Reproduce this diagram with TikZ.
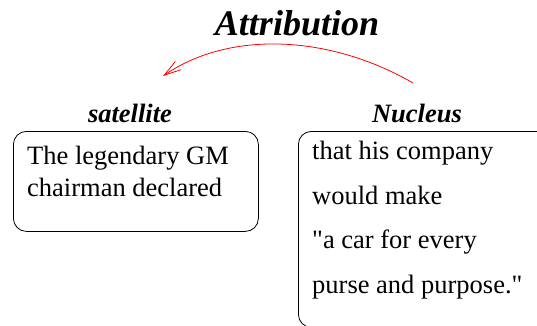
\documentclass[tikz,border=0pt]{standalone}
\usepackage{fontspec}
\setmainfont{Liberation Serif}
\usetikzlibrary{positioning, arrows.meta}

\tikzset{
  relbox/.style={draw, rounded corners=13pt, line width=0.8pt, anchor=north west},
  rellabel/.style={font=\fontsize{26.5}{30}\bfseries\itshape\selectfont, anchor=base},
  reltext/.style={font=\fontsize{26.5}{#1}\selectfont, align=left, inner sep=0pt, anchor=north west},
}

\begin{document}
\begin{tikzpicture}[x=1pt,y=-1pt]
\useasboundingbox (0,0) rectangle (537,325);
\clip (0,0) rectangle (537,325);
\node[font=\fontsize{36}{40}\bfseries\itshape\selectfont, anchor=base] (title) at (297,35) {Attribution};
\node[rellabel] (satlabel) at (130,122) {satellite};
\node[rellabel] (nuclabel) at (417,122) {Nucleus};
\node[relbox, minimum width=245pt, minimum height=100pt] (satbox) at (13,131) {};
\node[relbox, minimum width=320pt, minimum height=196pt] (nucbox) at (298,131) {};
\node[reltext=32pt] (sattext) at (27,146) {The legendary GM\\chairman declared};
\node[reltext=44.5pt] (nuctext) at (312,141)
    {that his company\\would make\\\textquotedbl a car for every\\purse and purpose.\textquotedbl};
\coordinate (arrfrom) at (413,83);
\coordinate (arrto) at (163,76);
\draw[red, line width=0.8pt, -{Straight Barb[length=17pt, width=10pt]}]
    (arrfrom) .. controls (330,35) and (230,30) .. (arrto);
\end{tikzpicture}
\end{document}
